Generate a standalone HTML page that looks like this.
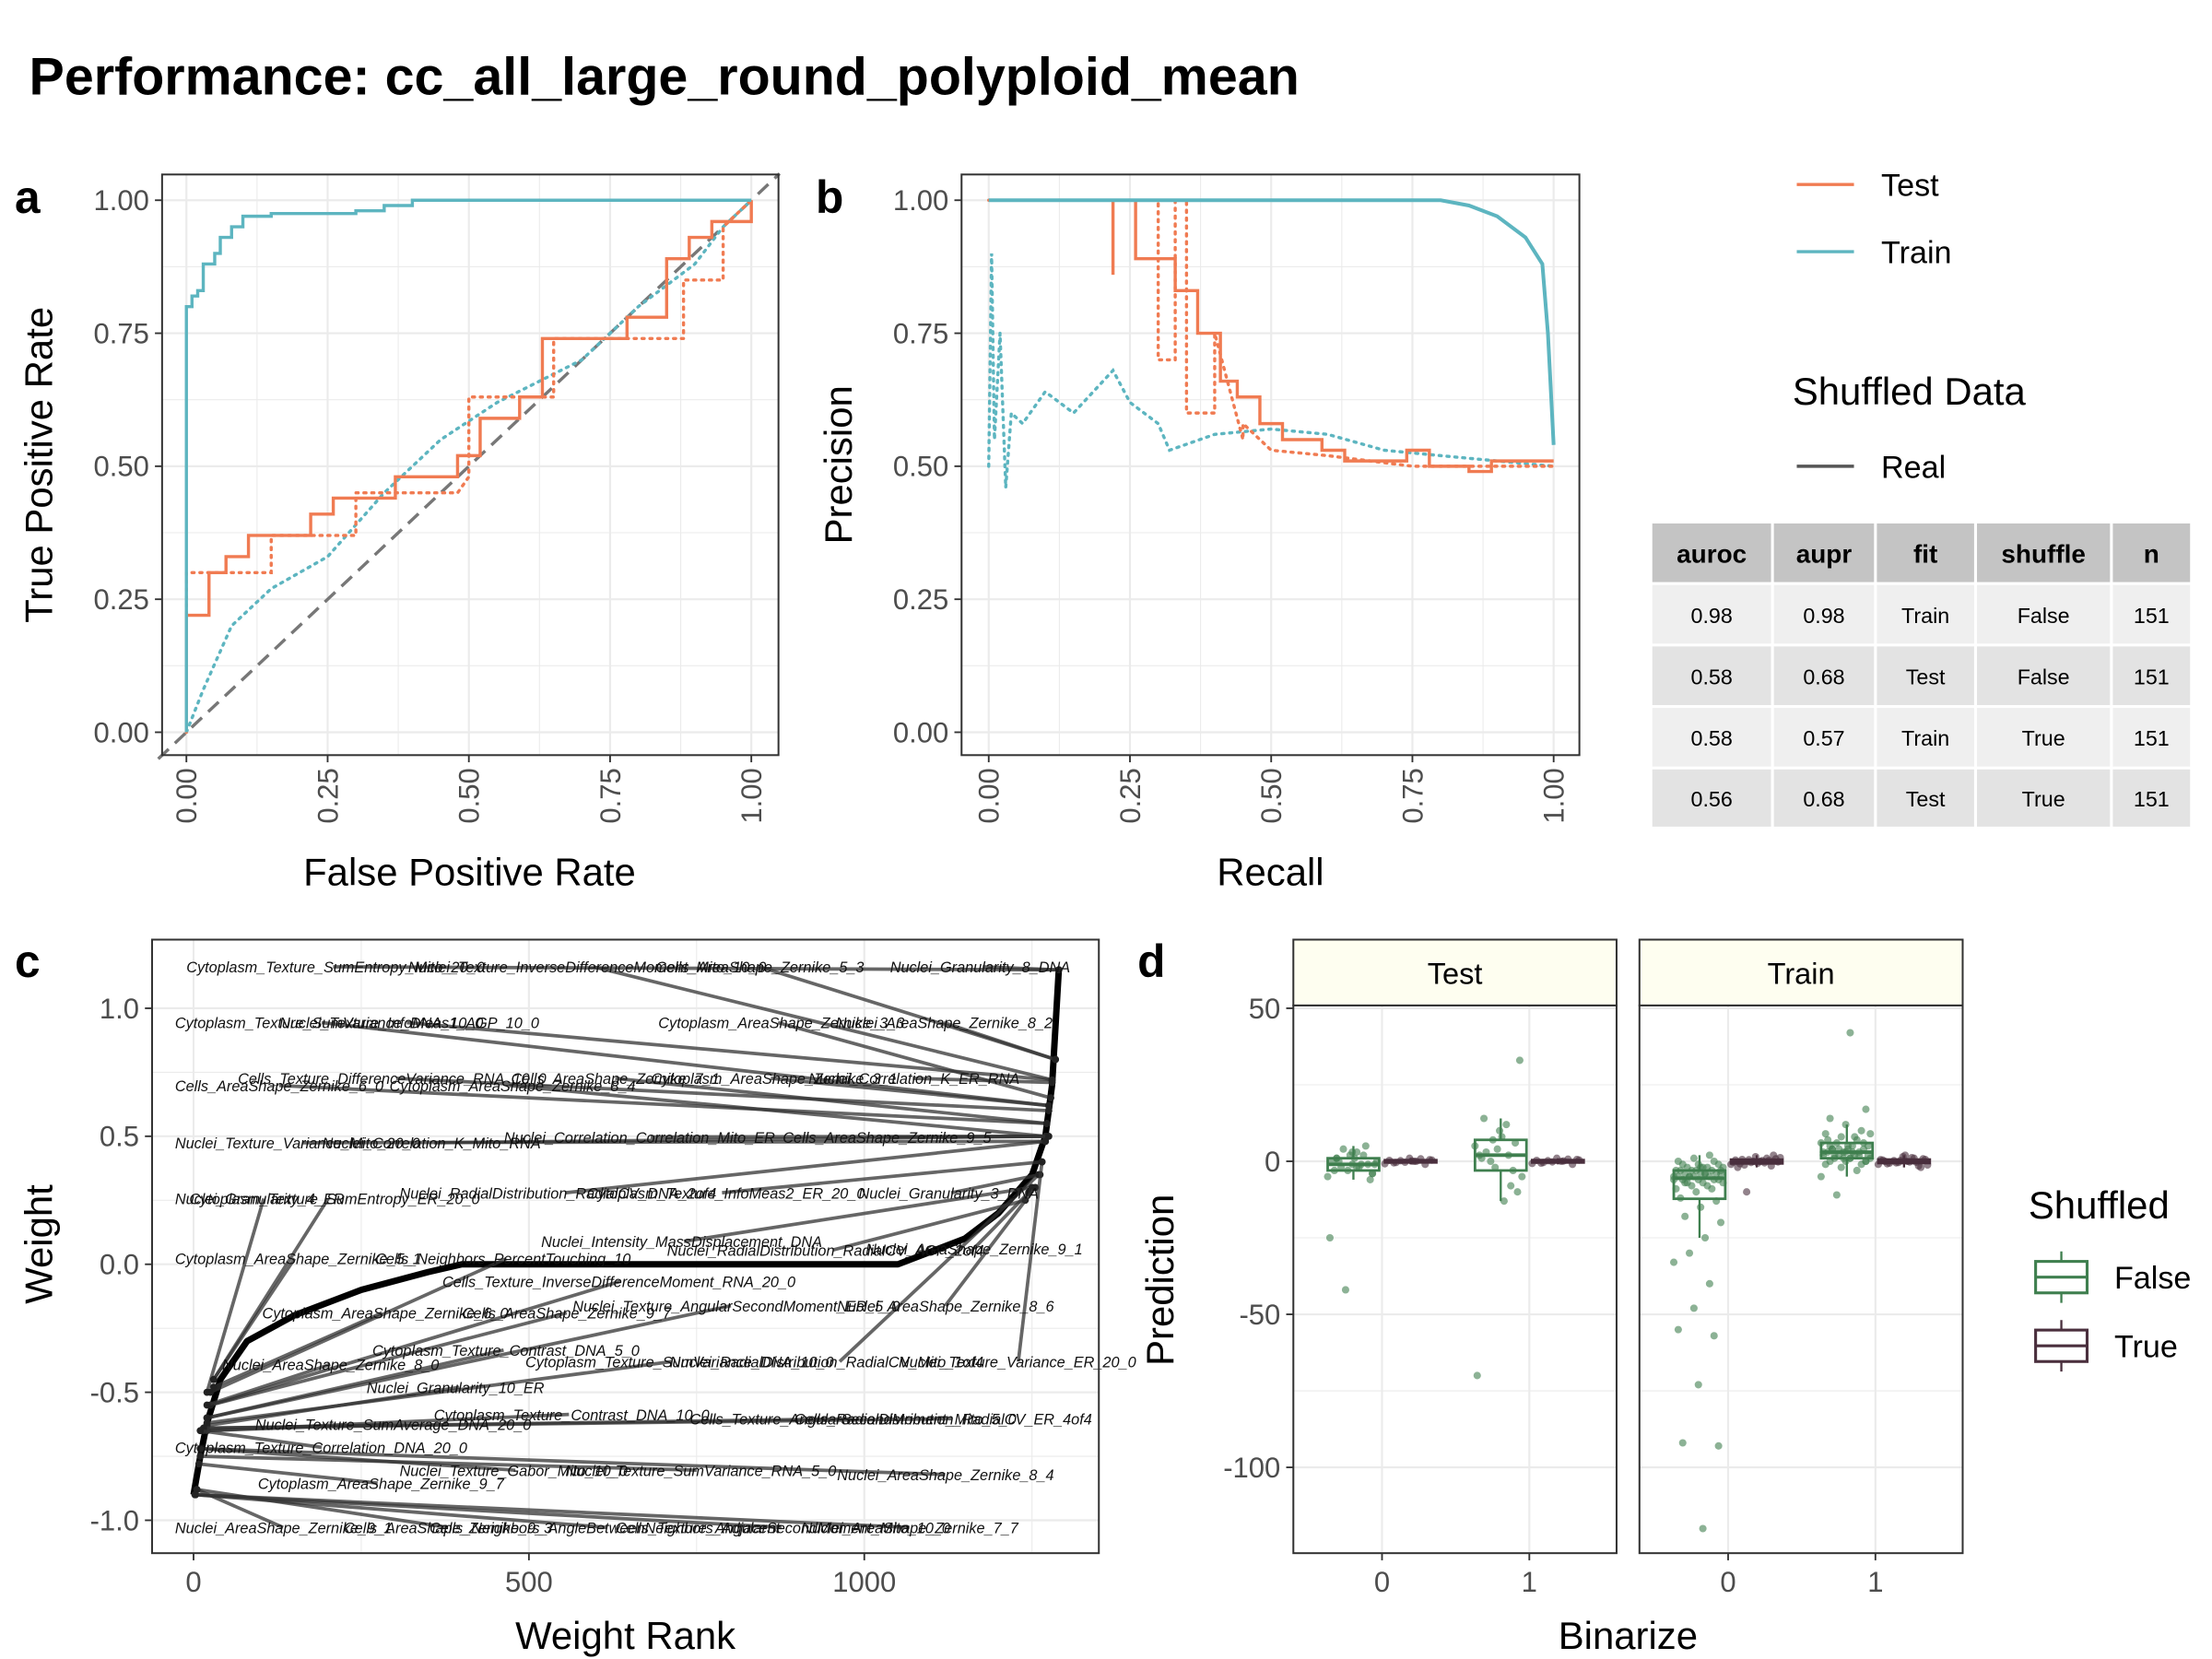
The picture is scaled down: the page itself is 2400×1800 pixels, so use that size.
<!DOCTYPE html>
<html><head><meta charset="utf-8"><style>
html,body{margin:0;padding:0;background:#fff}
svg{display:block;font-family:"Liberation Sans",sans-serif}
</style></head><body>
<svg id="fig" xmlns="http://www.w3.org/2000/svg" width="2400" height="1800" viewBox="0 0 1546 1160">
<rect width="1546" height="1160" fill="#fff"/>
<text x="20" y="66" font-size="37" font-weight="bold">Performance: cc_all_large_round_polyploid_mean</text>
<g id="root"></g>
</svg>
<script>
// ---------- DATA ----------
const rocTrainFpr=[0,0,0.01,0.01,0.02,0.02,0.03,0.03,0.05,0.05,0.06,0.06,0.08,0.08,0.1,0.1,0.15,0.15,0.3,0.3,0.35,0.35,0.4,0.4,1];
const rocTrainTpr=[0,0.8,0.8,0.82,0.82,0.83,0.83,0.88,0.88,0.9,0.9,0.93,0.93,0.95,0.95,0.97,0.97,0.975,0.975,0.98,0.98,0.99,0.99,1,1];
const rocTestFpr=[0,0,0.04,0.04,0.07,0.07,0.11,0.11,0.22,0.22,0.26,0.26,0.37,0.37,0.48,0.48,0.52,0.52,0.59,0.59,0.63,0.63,0.78,0.78,0.85,0.85,0.89,0.89,0.93,0.93,1,1];
const rocTestTpr=[0,0.22,0.22,0.3,0.3,0.33,0.33,0.37,0.37,0.41,0.41,0.44,0.44,0.48,0.48,0.52,0.52,0.59,0.59,0.63,0.63,0.74,0.74,0.78,0.78,0.89,0.89,0.93,0.93,0.96,0.96,1];
const rocShTrainFpr=[0,0.03,0.08,0.15,0.25,0.35,0.45,0.55,0.7,0.8,0.9,0.95,1];
const rocShTrainTpr=[0,0.08,0.2,0.27,0.33,0.45,0.55,0.62,0.7,0.8,0.88,0.95,1];
const rocShTestFpr=[0,0,0.15,0.15,0.3,0.3,0.48,0.5,0.5,0.65,0.65,0.88,0.88,0.95,0.95,1];
const rocShTestTpr=[0,0.3,0.3,0.37,0.37,0.45,0.45,0.48,0.63,0.63,0.74,0.74,0.85,0.85,0.95,1];
const prTrainRec=[0,0.8,0.85,0.9,0.95,0.98,0.99,1];
const prTrainPre=[1,1,0.99,0.97,0.93,0.88,0.75,0.54];
const prTestRec=[0,0.22,0.22,0.22,0.26,0.26,0.33,0.33,0.37,0.37,0.41,0.41,0.44,0.44,0.48,0.48,0.52,0.52,0.59,0.59,0.63,0.63,0.74,0.74,0.78,0.78,0.85,0.85,0.89,0.89,1];
const prTestPre=[1,1,0.86,1,1,0.89,0.89,0.83,0.83,0.75,0.75,0.66,0.66,0.63,0.63,0.58,0.58,0.55,0.55,0.53,0.53,0.51,0.51,0.53,0.53,0.5,0.5,0.49,0.49,0.51,0.51];
const prShTrainRec=[0,0.005,0.01,0.02,0.03,0.04,0.06,0.1,0.15,0.22,0.25,0.3,0.32,0.4,0.5,0.6,0.7,0.8,0.9,1];
const prShTrainPre=[0.5,0.9,0.55,0.75,0.46,0.6,0.58,0.64,0.6,0.68,0.62,0.58,0.53,0.56,0.57,0.56,0.53,0.52,0.51,0.5];
const prShTestRec=[0,0.3,0.3,0.33,0.33,0.35,0.35,0.4,0.4,0.45,0.45,0.5,0.6,0.75,1];
const prShTestPre=[1,1,0.7,0.7,1,1,0.6,0.6,0.75,0.55,0.58,0.53,0.52,0.5,0.5];
const tblHeader=["auroc","aupr","fit","shuffle","n"];
const tblRows=[["0.98","0.98","Train","False","151"],["0.58","0.68","Test","False","151"],["0.58","0.57","Train","True","151"],["0.56","0.68","Test","True","151"]];
const wRanks=[0,10,20,40,80,150,250,350,400,450,1050,1150,1200,1250,1270,1280,1290];
const wVals=[-0.9,-0.75,-0.62,-0.45,-0.3,-0.2,-0.1,-0.03,0,0,0,0.1,0.2,0.35,0.5,0.7,1.15];
const featNames=["Cytoplasm_Texture_SumEntropy_Mito_20_0","Nuclei_Texture_InverseDifferenceMoment_Mito_10_0","Cells_AreaShape_Zernike_5_3","Nuclei_Granularity_8_DNA","Cytoplasm_Texture_SumVariance_DNA_10_0","Nuclei_Texture_InfoMeas1_AGP_10_0","Cytoplasm_AreaShape_Zernike_3_3","Nuclei_AreaShape_Zernike_8_2","Cells_Texture_DifferenceVariance_RNA_10_0","Cells_AreaShape_Zernike_7_1","Cytoplasm_AreaShape_Zernike_3_1","Nuclei_Correlation_K_ER_RNA","Cells_AreaShape_Zernike_6_0","Cytoplasm_AreaShape_Zernike_8_4","Nuclei_Texture_Variance_Mito_20_0","Nuclei_Correlation_K_Mito_RNA","Nuclei_Correlation_Correlation_Mito_ER","Cells_AreaShape_Zernike_9_5","Nuclei_Granularity_4_ER","Cytoplasm_Texture_SumEntropy_ER_20_0","Nuclei_RadialDistribution_RadialCV_DNA_2of4","Cytoplasm_Texture_InfoMeas2_ER_20_0","Nuclei_Granularity_3_DNA","Nuclei_Intensity_MassDisplacement_DNA","Nuclei_RadialDistribution_RadialCV_AGP_2of4","Nuclei_AreaShape_Zernike_9_1","Cytoplasm_AreaShape_Zernike_5_1","Cells_Neighbors_PercentTouching_10","Cells_Texture_InverseDifferenceMoment_RNA_20_0","Cytoplasm_AreaShape_Zernike_6_0","Cells_AreaShape_Zernike_9_7","Nuclei_Texture_AngularSecondMoment_ER_5_0","Nuclei_AreaShape_Zernike_8_6","Cytoplasm_Texture_Contrast_DNA_5_0","Nuclei_AreaShape_Zernike_8_0","Cytoplasm_Texture_SumVariance_DNA_10_0","Nuclei_RadialDistribution_RadialCV_Mito_1of4","Nuclei_Texture_Variance_ER_20_0","Nuclei_Granularity_10_ER","Cytoplasm_Texture_Contrast_DNA_10_0","Cells_Texture_AngularSecondMoment_Mito_5_0","Cells_RadialDistribution_RadialCV_ER_4of4","Nuclei_Texture_SumAverage_DNA_20_0","Cytoplasm_Texture_Correlation_DNA_20_0","Nuclei_Texture_Gabor_Mito_10_0","Nuclei_Texture_SumVariance_RNA_5_0","Nuclei_AreaShape_Zernike_8_4","Cytoplasm_AreaShape_Zernike_9_7","Nuclei_AreaShape_Zernike_9_1","Cells_AreaShape_Zernike_9_3","Cells_Neighbors_AngleBetweenNeighbors_Adjacent","Cells_Texture_AngularSecondMoment_Mito_10_0","Nuclei_AreaShape_Zernike_7_7"];
const featRanks=[1290,1280,1285,1290,1275,1280,1278,1285,1275,1272,1275,1280,1272,1270,1270,1270,1272,1275,20,30,1270,1265,1262,1250,1240,1245,30,25,25,30,25,20,1255,20,20,20,1260,1265,20,20,15,15,15,10,10,10,10,8,5,5,3,3,2];
const featWeights=[1.15,0.72,0.8,1.15,0.62,0.72,0.65,0.8,0.6,0.55,0.62,0.71,0.55,0.5,0.48,0.5,0.5,0.5,-0.5,-0.45,0.48,0.4,0.35,0.3,0.25,0.28,-0.45,-0.5,-0.55,-0.48,-0.55,-0.6,0.3,-0.6,-0.55,-0.62,0.35,0.4,-0.63,-0.65,-0.64,-0.64,-0.65,-0.65,-0.72,-0.75,-0.72,-0.78,-0.88,-0.88,-0.9,-0.9,-0.9];
const testF0=[-2,-4,1,3,-1,0,-3,2,-5,4,-2,-1,0,1,-6,-3,2,5,-25,-42,-1,0,-2,3,-4,1,-1];
const testF1=[-13,33,14,10,6,2,-2,-8,5,0,12,-5,3,8,-10,1,4,-3,-70,7,2];
const trainF0=[-120,-93,-92,-73,-57,-55,-48,-40,-33,-30,-25,-20,-18,-15,-13,-12,-10,-9,-9,-8,-8,-7,-7,-7,-6,-6,-6,-6,-5,-5,-5,-5,-5,-4,-4,-4,-4,-4,-3,-3,-3,-3,-3,-2,-2,-2,-2,-1,-1,-1,0,0,1,2,-6,-5,-4,-3,-7,-2];
const trainF1=[42,17,14,12,10,9,8,7,6,6,5,5,4,4,4,3,3,3,2,2,2,1,1,1,0,0,0,-1,-1,-2,-3,-5,-11,3,2,4,5,6,7,1,2,3,4,8,9,2,1,0,5,3];
const testT0=[0,0.5,-0.5,1,-1,0.3,-0.3,0.8,-0.8,0.2,0,0.4,-0.4,0.1];
const testT1=[0,0.6,-0.6,1,-1,0.3,-0.2,0.7,-0.7,0.2,0.1,0.4,-0.4];
const trainT0=[0,0.8,-0.8,1.5,-1.5,0.4,-0.4,1,-1,-10,0.2,-0.2,0.6,-0.6,2,-2,0,0.3,-0.3,0.5,-0.5,1.2,-1.2];
const trainT1=[0,0.8,-0.8,1.5,-1.5,0.4,-0.4,1,-1,0.2,-0.2,0.6,-0.6,2,-2,0,0.3,-0.3,0.5,-0.5,1.2,-1.2];
// ---------- DRAW ----------
const NS="http://www.w3.org/2000/svg";
const root=document.getElementById('root');
function el(tag,attrs,parent,text){const e=document.createElementNS(NS,tag);for(const k in attrs)e.setAttribute(k,attrs[k]);if(text!==undefined)e.textContent=text;(parent||root).appendChild(e);return e;}
const TEST="#F07B52",TRAIN="#5DB5C0",GRID="#ebebeb",TICK="#4d4d4d";
function lin(d0,d1,r0,r1){return v=>r0+(v-d0)/(d1-d0)*(r1-r0);}
function panelFrame(x0,y0,x1,y1,xs,ys,xt,yt,xminor,yminor,g){
  el('rect',{x:x0,y:y0,width:x1-x0,height:y1-y0,fill:'#fff'},g);
  xminor.forEach(v=>el('line',{x1:xs(v),x2:xs(v),y1:y0,y2:y1,stroke:GRID,'stroke-width':0.7},g));
  yminor.forEach(v=>el('line',{y1:ys(v),y2:ys(v),x1:x0,x2:x1,stroke:GRID,'stroke-width':0.7},g));
  xt.forEach(v=>el('line',{x1:xs(v),x2:xs(v),y1:y0,y2:y1,stroke:GRID,'stroke-width':1.4},g));
  yt.forEach(v=>el('line',{y1:ys(v),y2:ys(v),x1:x0,x2:x1,stroke:GRID,'stroke-width':1.4},g));
}
function border(x0,y0,x1,y1,g){el('rect',{x:x0,y:y0,width:x1-x0,height:y1-y0,fill:'none',stroke:'#333','stroke-width':1.3},g);}
function path(xs,ys,X,Y,attrs,g,name){const d=X.map((v,i)=>(i?'L':'M')+xs(v).toFixed(1)+','+ys(Y[i]).toFixed(1)).join('');const p=el('path',Object.assign({d:d,fill:'none'},attrs),g);return p;}
function yTicks(x0,ys,vals,labels,g,name){vals.forEach((v,i)=>{el('line',{x1:x0-5,x2:x0,y1:ys(v),y2:ys(v),stroke:'#333','stroke-width':1.2},g);const t=el('text',{x:x0-9,y:ys(v)+7,'text-anchor':'end','font-size':20,fill:TICK},g,labels[i]);});}
function xTicksRot(y1,xs,vals,labels,g,name){vals.forEach((v,i)=>{el('line',{x1:xs(v),x2:xs(v),y1:y1,y2:y1+5,stroke:'#333','stroke-width':1.2},g);const t=el('text',{x:xs(v)+7,y:y1+9,'text-anchor':'end','font-size':20,fill:TICK,transform:`rotate(-90 ${xs(v)+7} ${y1+9})`},g,labels[i]);});}
function xTicks(y1,xs,vals,labels,g,name){vals.forEach((v,i)=>{el('line',{x1:xs(v),x2:xs(v),y1:y1,y2:y1+5,stroke:'#333','stroke-width':1.2},g);const t=el('text',{x:xs(v),y:y1+27,'text-anchor':'middle','font-size':20,fill:TICK},g,labels[i]);});}
function label(txt,x,y,attrs,g,name){const t=el('text',Object.assign({x:x,y:y},attrs),g,txt);return t;}
const q=[0,0.25,0.5,0.75,1],ql=["0.00","0.25","0.50","0.75","1.00"],qm=[0.125,0.375,0.625,0.875];
const DOT={'stroke-width':2.2,'stroke-dasharray':'1.5,4','stroke-linecap':'round'};

// Panel a
{const g=el('g',{});
const x0=113,x1=544,y0=122,y1=528,xs=lin(0,1,130,525),ys=lin(0,1,512,140);
panelFrame(x0,y0,x1,y1,xs,ys,q,q,qm,qm,g);
path(xs,ys,[-0.05,1.05],[-0.05,1.05],{stroke:'#777','stroke-width':2.2,'stroke-dasharray':'10,6'},g,'roc-diagonal');
path(xs,ys,rocShTrainFpr,rocShTrainTpr,Object.assign({stroke:TRAIN},DOT),g,'roc-train-shuffled');
path(xs,ys,rocShTestFpr,rocShTestTpr,Object.assign({stroke:TEST},DOT),g,'roc-test-shuffled');
path(xs,ys,rocTestFpr,rocTestTpr,{stroke:TEST,'stroke-width':2.2},g,'roc-test-line');
path(xs,ys,rocTrainFpr,rocTrainTpr,{stroke:TRAIN,'stroke-width':2.2},g,'roc-train-line');
border(x0,y0,x1,y1,g);
yTicks(x0,ys,q,ql,g,'roc-y');xTicksRot(y1,xs,q,ql,g,'roc-x');
label('False Positive Rate',328,619,{'text-anchor':'middle','font-size':27},g,'roc-x-axis-title');
label('True Positive Rate',36,325,{'text-anchor':'middle','font-size':27,transform:'rotate(-90 36 325)'},g,'roc-y-axis-title');
label('a',10,149,{'font-size':32,'font-weight':'bold'},g,'panel-label-a');}

// Panel b
{const g=el('g',{});
const x0=672,x1=1104,y0=122,y1=528,xs=lin(0,1,691,1086),ys=lin(0,1,512,140);
panelFrame(x0,y0,x1,y1,xs,ys,q,q,qm,qm,g);
path(xs,ys,prShTrainRec,prShTrainPre,Object.assign({stroke:TRAIN},DOT),g,'pr-train-shuffled');
path(xs,ys,prShTestRec,prShTestPre,Object.assign({stroke:TEST},DOT),g,'pr-test-shuffled');
path(xs,ys,prTestRec,prTestPre,{stroke:TEST,'stroke-width':2.2},g,'pr-test-line');
path(xs,ys,prTrainRec,prTrainPre,{stroke:TRAIN,'stroke-width':2.6},g,'pr-train-line');
border(x0,y0,x1,y1,g);
yTicks(x0,ys,q,ql,g,'pr-y');xTicksRot(y1,xs,q,ql,g,'pr-x');
label('Recall',888,619,{'text-anchor':'middle','font-size':27},g,'pr-x-axis-title');
label('Precision',595,325,{'text-anchor':'middle','font-size':27,transform:'rotate(-90 595 325)'},g,'pr-y-axis-title');
label('b',570,149,{'font-size':32,'font-weight':'bold'},g,'panel-label-b');}

// Legend top right
{const g=el('g',{});
el('line',{x1:1256,x2:1296,y1:129,y2:129,stroke:TEST,'stroke-width':2.2},g);
label('Test',1315,137,{'font-size':22},g,'legend-entry-test');
el('line',{x1:1256,x2:1296,y1:176,y2:176,stroke:TRAIN,'stroke-width':2.2},g);
label('Train',1315,184,{'font-size':22},g,'legend-entry-train');
label('Shuffled Data',1253,283,{'font-size':27},g,'shuffled-legend-title');
el('line',{x1:1256,x2:1296,y1:326,y2:326,stroke:'#555','stroke-width':2.2},g);
label('Real',1315,334,{'font-size':22},g,'legend-entry-real');}

// Table
{const g=el('g',{});
const cx=[1155,1240,1312,1382,1477,1533];const ry=[366,409,452,495,538,580];
for(let r=0;r<5;r++)for(let c=0;c<5;c++){
  el('rect',{x:cx[c],y:ry[r],width:cx[c+1]-cx[c]-2,height:ry[r+1]-ry[r]-2,fill:r==0?'#c4c4c4':(r%2?'#efefef':'#e3e3e3')},g);
  const txt=r==0?tblHeader[c]:tblRows[r-1][c];
  label(txt,(cx[c]+cx[c+1]-2)/2,(ry[r]+ry[r+1]-2)/2+(r==0?7:6),{'text-anchor':'middle','font-size':r==0?18:15,'font-weight':r==0?'bold':'normal'},g,r==0?'table-header-cell':'table-cell');}}

// Panel c
{const g=el('g',{});
const x0=106,x1=768,y0=657,y1=1086,xs=lin(0,1000,135,604),ys=lin(0,1,884,705);
const xt=[0,500,1000],yt=[-1,-0.5,0,0.5,1];
panelFrame(x0,y0,x1,y1,xs,ys,xt,yt,[250,750,1250],[-0.75,-0.25,0.25,0.75],g);
path(xs,ys,wRanks,wVals,{stroke:'#000','stroke-width':4.5,'stroke-linejoin':'round'},g,'weight-curve');
const lx=[130,285,458,622,122,195,460,584,166,357,455,565,122,272,122,225,352,547,122,132,279,410,600,378,466,605,122,262,309,183,323,400,585,260,155,367,468,628,256,303,482,555,178,122,279,395,585,180,122,240,300,430,560];
const ly=[680,680,680,680,719,719,719,719,758,758,758,758,763,763,803,803,799,799,842,842,838,838,838,872,878,877,884,884,900,922,922,917,917,948,958,956,956,956,974,993,996,996,1000,1016,1032,1032,1035,1041,1072,1072,1072,1072,1072];
featNames.forEach((n,i)=>{const cxl=Math.min(lx[i]+n.length*2.7,755);
  const s=el('line',{x1:cxl,y1:ly[i]-4,x2:xs(featRanks[i]),y2:ys(featWeights[i]),stroke:'#333','stroke-opacity':0.75,'stroke-width':2.4},g);
  
  const p=el('circle',{cx:xs(featRanks[i]),cy:ys(featWeights[i]),r:2.5,fill:'#222'},g);
  });
featNames.forEach((n,i)=>label(n,lx[i],ly[i],{'font-size':10.5,'font-style':'italic',fill:'#111'},g,'feature-label'));
border(x0,y0,x1,y1,g);
yTicks(x0,ys,yt,["-1.0","-0.5","0.0","0.5","1.0"],g,'weight-y');xTicks(y1,xs,xt,["0","500","1000"],g,'weight-x');
label('Weight Rank',437,1153,{'text-anchor':'middle','font-size':27},g,'weight-x-axis-title');
label('Weight',36,870,{'text-anchor':'middle','font-size':27,transform:'rotate(-90 36 870)'},g,'weight-y-axis-title');
label('c',10,683,{'font-size':32,'font-weight':'bold'},g,'panel-label-c');}

// Panel d
{const g=el('g',{});
const y0=703,y1=1086,ys=lin(0,50,812,705);const yt=[-100,-50,0,50];
const GF="#3F7F4F",GT="#4A2F3D";
function quant(a,p){const s=[...a].sort((x,y)=>x-y);const h=(s.length-1)*p,l=Math.floor(h);return s[l]+(s[Math.min(l+1,s.length-1)]-s[l])*(h-l);}
function box(vals,cx,col,name){const q1=quant(vals,0.25),q3=quant(vals,0.75),md=quant(vals,0.5),iq=q3-q1;
  const lo=Math.min(...vals.filter(v=>v>=q1-1.5*iq)),hi=Math.max(...vals.filter(v=>v<=q3+1.5*iq));const w=36;
  el('line',{x1:cx,x2:cx,y1:ys(hi),y2:ys(q3),stroke:col,'stroke-width':1.5},g);el('line',{x1:cx,x2:cx,y1:ys(lo),y2:ys(q1),stroke:col,'stroke-width':1.5},g);
  const r=el('rect',{x:cx-w/2,y:ys(q3),width:w,height:Math.max(ys(q1)-ys(q3),1),fill:'none',stroke:col,'stroke-width':1.8},g);
  
  el('line',{x1:cx-w/2,x2:cx+w/2,y1:ys(md),y2:ys(md),stroke:col,'stroke-width':2.5},g);
  vals.forEach((v,i)=>{const j=(((i*7919+13)%23)/23-0.5)*36;const c=el('circle',{cx:cx+j,cy:ys(v),r:2.6,fill:col,'fill-opacity':0.6},g);});}
[[904,1130,'Test',testF0,testF1,testT0,testT1],[1146,1372,'Train',trainF0,trainF1,trainT0,trainT1]].forEach((f,k)=>{
  const x0=f[0],x1=f[1],xs=lin(0,1,x0+62,x0+165);
  panelFrame(x0,y0,x1,y1,xs,ys,[0,1],yt,[],[-75,-25,25],g);
  box(f[3],xs(0)-20,GF,'box-false-0');box(f[5],xs(0)+20,GT,'box-true-0');
  box(f[4],xs(1)-20,GF,'box-false-1');box(f[6],xs(1)+20,GT,'box-true-1');
  border(x0,y0,x1,y1,g);
  el('rect',{x:x0,y:657,width:x1-x0,height:46,fill:'#FEFEF0',stroke:'#333','stroke-width':1.3},g);
  label(f[2],(x0+x1)/2,688,{'text-anchor':'middle','font-size':21},g,'facet-strip-'+f[2].toLowerCase());
  xTicks(y1,xs,[0,1],["0","1"],g,'prediction-x');
  if(k==0)yTicks(x0,ys,yt,["-100","-50","0","50"],g,'prediction-y');});
label('Binarize',1138,1153,{'text-anchor':'middle','font-size':27},g,'prediction-x-axis-title');
label('Prediction',820,895,{'text-anchor':'middle','font-size':27,transform:'rotate(-90 820 895)'},g,'prediction-y-axis-title');
label('d',795,683,{'font-size':32,'font-weight':'bold'},g,'panel-label-d');
label('Shuffled',1418,852,{'font-size':27},g,'shuffled-legend-title-d');
[[893,GF,'False'],[941,GT,'True']].forEach(e=>{el('line',{x1:1441,x2:1441,y1:e[0]-18,y2:e[0]+18,stroke:e[1],'stroke-width':1.5},g);
  el('rect',{x:1423,y:e[0]-11,width:36,height:22,fill:'#fff',stroke:e[1],'stroke-width':2},g);
  el('line',{x1:1423,x2:1459,y1:e[0],y2:e[0],stroke:e[1],'stroke-width':2},g);
  label(e[2],1478,e[0]+8,{'font-size':22},g,'legend-entry-'+e[2].toLowerCase());});}
</script>
</body></html>
